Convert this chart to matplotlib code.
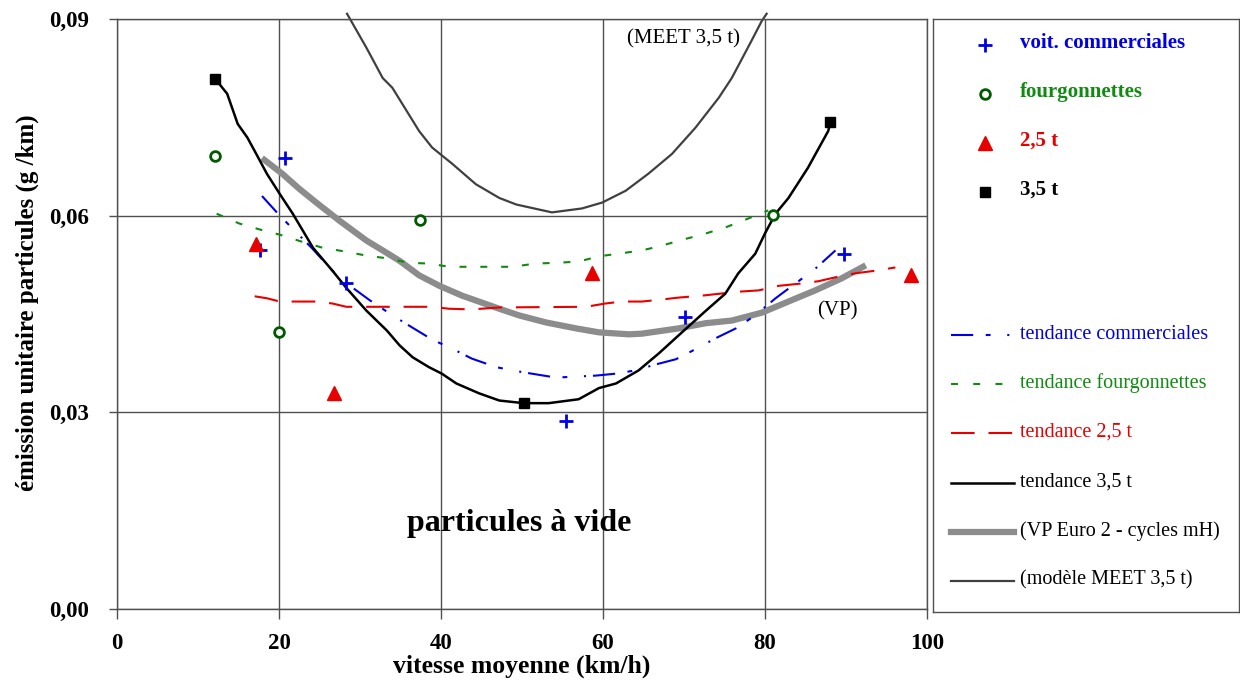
import matplotlib.pyplot as plt

plt.rcParams['font.family'] = ['Liberation Serif', 'DejaVu Serif']
plt.rcParams['lines.scale_dashes'] = False

# mesures (points)
vc_x = [17.7, 20.8, 28.3, 55.4, 70.1, 89.8]
vc_y = [0.0547, 0.0688, 0.0498, 0.0287, 0.0445, 0.0542]
fg_x = [12.1, 20.0, 37.4, 81.0]
fg_y = [0.0691, 0.0423, 0.0594, 0.0601]
t25_x = [17.2, 26.8, 58.6, 98.0]
t25_y = [0.0557, 0.0330, 0.0513, 0.0510]
t35_x = [12.1, 50.2, 88.0]
t35_y = [0.0809, 0.0314, 0.0743]

# tendances
tr_vc_x = [17.9, 20.1, 21.7, 24.1, 26.6, 29.1, 31.2, 34.0, 36.5, 38.9, 41.4, 43.8, 46.8,
           48.8, 51.2, 54.2, 59.1, 61.6, 64.0, 66.5, 69.0, 70.9, 73.9, 76.4, 78.8, 81.3,
           86.2, 88.7]
tr_vc_y = [0.0630, 0.0600, 0.0580, 0.0550, 0.0516, 0.0490, 0.0471, 0.0448, 0.0429, 0.0411,
           0.0397, 0.0382, 0.0369, 0.0364, 0.0359, 0.0353, 0.0356, 0.0359, 0.0364, 0.0373,
           0.0381, 0.0393, 0.0413, 0.0428, 0.0448, 0.0474, 0.0519, 0.0547]

tr_fg_x = [12.3, 15.1, 17.6, 20.1, 22.9, 25.4, 28.3, 30.8, 33.3, 36.1, 38.5, 41.0, 46.3,
           48.8, 51.7, 54.2, 57.0, 59.5, 61.9, 64.8, 67.2, 69.7, 72.2, 75.1, 77.6, 80.4]
tr_fg_y = [0.0603, 0.0588, 0.0579, 0.0571, 0.0560, 0.0551, 0.0545, 0.0539, 0.0535, 0.0528,
           0.0527, 0.0522, 0.0522, 0.0522, 0.0527, 0.0528, 0.0530, 0.0538, 0.0542, 0.0547,
           0.0554, 0.0563, 0.0571, 0.0582, 0.0594, 0.0608]

tr_25_x = [17.0, 18.5, 20.1, 24.6, 26.6, 28.3, 38.9, 41.0, 43.8, 47.2, 57.9, 60.3, 62.3,
           64.8, 67.2, 69.3, 72.2, 76.7, 79.2, 81.7, 84.1, 86.6, 88.7, 91.1, 93.6, 96.1]
tr_25_y = [0.0477, 0.0474, 0.0469, 0.0469, 0.0466, 0.0461, 0.0461, 0.0458, 0.0457, 0.0460,
           0.0461, 0.0466, 0.0469, 0.0469, 0.0472, 0.0475, 0.0478, 0.0484, 0.0486, 0.0493,
           0.0496, 0.0500, 0.0506, 0.0512, 0.0516, 0.0521]

tr_35_x = [12.1, 13.6, 14.9, 16.1, 17.2, 18.5, 20.1, 21.7, 24.2, 26.6, 28.3, 30.8, 33.3,
           34.9, 36.5, 38.5, 40.1, 41.9, 44.7, 47.2, 50.2, 53.3, 57.0, 59.5, 61.6, 64.4,
           66.9, 69.3, 72.7, 75.1, 76.7, 78.8, 80.0, 81.3, 82.9, 85.3, 87.8, 88.1]
tr_35_y = [0.0809, 0.0786, 0.0740, 0.0719, 0.0694, 0.0664, 0.0633, 0.0603, 0.0551, 0.0516,
           0.0490, 0.0455, 0.0425, 0.0402, 0.0384, 0.0369, 0.0359, 0.0344, 0.0329, 0.0318,
           0.0314, 0.0314, 0.0320, 0.0337, 0.0344, 0.0364, 0.0390, 0.0417, 0.0455, 0.0481,
           0.0512, 0.0542, 0.0573, 0.0603, 0.0627, 0.0673, 0.0729, 0.0743]

vp_x = [18.2, 20.4, 22.5, 24.6, 27.5, 30.8, 32.8, 34.9, 37.3, 39.8, 42.6, 47.2, 49.6,
        53.0, 56.7, 59.5, 63.2, 64.8, 69.3, 72.7, 75.9, 79.6, 82.5, 86.2, 89.4, 92.1]
vp_y = [0.0685, 0.0664, 0.0641, 0.0620, 0.0592, 0.0562, 0.0547, 0.0531, 0.0509, 0.0493,
        0.0478, 0.0458, 0.0448, 0.0437, 0.0428, 0.0422, 0.0419, 0.0420, 0.0428, 0.0436,
        0.0440, 0.0452, 0.0467, 0.0486, 0.0504, 0.0522]

meet_x = [28.4, 30.8, 32.8, 34.0, 37.3, 38.9, 41.4, 44.3, 47.2, 49.3, 53.7, 57.4, 59.9,
          62.8, 65.6, 68.5, 71.4, 74.3, 75.9, 78.3, 79.6, 80.2]
meet_y = [0.0908, 0.0856, 0.0810, 0.0795, 0.0729, 0.0704, 0.0679, 0.0648, 0.0627, 0.0617,
          0.0605, 0.0611, 0.0620, 0.0638, 0.0664, 0.0694, 0.0734, 0.0780, 0.0810, 0.0866,
          0.0897, 0.0908]

x_ticks = [0, 20, 40, 60, 80, 100]
y_ticks = [0.0, 0.03, 0.06, 0.09]
y_labels = ['0,00', '0,03', '0,06', '0,09']

BLUE = '#0000e6'
GREEN = '#108a10'
DGREEN = '#005a00'
RED = '#e60000'
GREY = '#8c8c8c'
MEET = '#404040'

fig = plt.figure(figsize=(12.4, 6.86), dpi=100)
ax = fig.add_axes([117 / 1240, 1 - 609 / 686, 810 / 1240, 590 / 686])

ax.plot(meet_x, meet_y, color=MEET, lw=1.6, clip_on=False)
ax.plot(vp_x, vp_y, color=GREY, lw=4.5)
ax.plot(tr_vc_x, tr_vc_y, color=BLUE, lw=1.5, dashes=[16, 9, 3.5, 12, 1.5, 5])
ax.plot(tr_fg_x, tr_fg_y, color=GREEN, lw=1.5, dashes=[5, 10])
ax.plot(tr_25_x, tr_25_y, color=RED, lw=1.5, dashes=[17, 10])
ax.plot(tr_35_x, tr_35_y, color='black', lw=1.8)

ax.plot(vc_x, vc_y, ls='none', marker='+', ms=10, mew=2, color=BLUE)
ax.plot(fg_x, fg_y, ls='none', marker='o', ms=7, mew=2, mfc='white', mec=DGREEN)
ax.plot(t25_x, t25_y, ls='none', marker='^', ms=10, color=RED)
ax.plot(t35_x, t35_y, ls='none', marker='s', ms=7.5, color='black')

ax.text(69.9, 0.0870, '(MEET 3,5 t)', ha='center', va='center', fontsize=15)
ax.text(88.9, 0.0455, '(VP)', ha='center', va='center', fontsize=15)
ax.text(49.6, 0.0131, 'particules à vide', ha='center', va='center', fontsize=23,
        fontweight='bold')

ax.set_xlim(0, 100)
ax.set_ylim(0, 0.09)
ax.set_xticks(x_ticks)
ax.set_xticklabels([str(v) for v in x_ticks])
ax.set_yticks(y_ticks)
ax.set_yticklabels(y_labels)
ax.grid(True, color='#505050', lw=1)
ax.set_axisbelow(True)
for s in ax.spines.values():
    s.set_color('#505050')
    s.set_linewidth(1)
ax.tick_params(axis='x', direction='out', length=7, width=1, color='#505050', pad=10,
               labelsize=16.5)
ax.tick_params(axis='y', direction='out', length=6, width=1, color='#505050', pad=14,
               labelsize=16.5)
for lab in ax.get_xticklabels() + ax.get_yticklabels():
    lab.set_fontweight('bold')
ax.set_xlabel('vitesse moyenne (km/h)', fontsize=18.5, fontweight='bold')
ax.xaxis.set_label_coords(0.5, -46 / 590)
ax.set_ylabel('émission unitaire particules (g /km)', fontsize=18, fontweight='bold')
ax.yaxis.set_label_coords(-78 / 810, 0.52)

# legend box
lg = fig.add_axes([933 / 1240, 1 - 612 / 686, 306 / 1240, 593 / 686])
lg.set_xlim(933, 1239)
lg.set_ylim(612, 19)
lg.set_xticks([])
lg.set_yticks([])
for s in lg.spines.values():
    s.set_color('#505050')
    s.set_linewidth(1)

mk_items = [('+', BLUE, BLUE, 'voit. commerciales', dict(ms=10, mew=2)),
            ('o', DGREEN, GREEN, 'fourgonnettes', dict(ms=7, mew=2, mfc='white')),
            ('^', RED, RED, '2,5 t', dict(ms=10)),
            ('s', 'black', 'black', '3,5 t', dict(ms=7.5))]
for i, (m, c, tc, lab, kw) in enumerate(mk_items):
    yy = 45 + i * 49
    lg.plot([985], [yy], ls='none', marker=m, color=c, **kw)
    lg.text(1020, yy - 2, lab, color=tc, fontsize=15, fontweight='bold', va='center')

ln_items = [(BLUE, BLUE, 1.5, [16, 9, 3.5, 12, 1.5, 5], 'tendance commerciales'),
            (GREEN, GREEN, 1.5, [5, 11], 'tendance fourgonnettes'),
            (RED, RED, 1.5, [17, 10], 'tendance 2,5 t'),
            ('black', 'black', 1.8, None, 'tendance 3,5 t'),
            (GREY, 'black', 4.5, None, '(VP Euro 2 - cycles mH)'),
            (MEET, 'black', 1.6, None, '(modèle MEET 3,5 t)')]
for i, (c, tc, w, d, lab) in enumerate(ln_items):
    yy = 335 + i * 49.2
    kw = dict(dashes=d) if d else {}
    lg.plot([951, 1014], [yy, yy], color=c, lw=w, **kw)
    lg.text(1020, yy - 1, lab, color=tc, fontsize=14.5, va='center')

fig.savefig('out.png', dpi=100)
